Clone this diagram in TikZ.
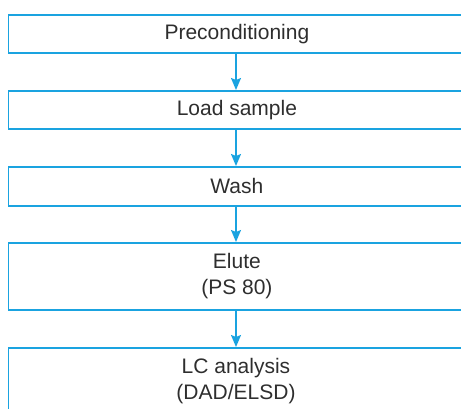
\documentclass[tikz,border=0pt]{standalone}
\usepackage{fontspec}
\setmainfont{Liberation Sans}
\usetikzlibrary{arrows.meta}
\definecolor{agblue}{HTML}{1AA3E0}
\definecolor{txtgray}{HTML}{2E2E2E}
\begin{document}
\begin{tikzpicture}[x=1pt,y=-1pt,
  stepbox/.style={draw=agblue,line width=1.8pt,minimum width=457pt,inner sep=0pt,
    text=txtgray,font=\fontsize{21}{26}\selectfont,align=center,anchor=north west},
  flow/.style={draw=agblue,line width=1.6pt,-{Stealth[length=12pt,width=10pt,inset=2pt]}}]
\useasboundingbox (0,0) rectangle (461,408);
\begin{scope}
\clip (0,0) rectangle (461,408);
\node[stepbox,minimum height=38pt] (b1) at (7.5,14) {\raisebox{-1pt}{Preconditioning}};
\node[stepbox,minimum height=38pt] (b2) at (7.5,90) {\raisebox{-1pt}{Load sample}};
\node[stepbox,minimum height=39pt] (b3) at (7.5,166) {\raisebox{-1pt}{Wash}};
\node[stepbox,minimum height=67pt] (b4) at (7.5,242) {Elute\\(PS 80)};
\node[stepbox,minimum height=80pt] (b5) at (7.5,347) {};
\node[text=txtgray,font=\fontsize{21}{26}\selectfont,align=center] (t5) at (236,381) {LC analysis\\(DAD/ELSD)};
\end{scope}
\coordinate (ax) at (236,0);
\draw[flow] (b1.south -| ax) -- (b2.north -| ax);
\draw[flow] (b2.south -| ax) -- (b3.north -| ax);
\draw[flow] (b3.south -| ax) -- (b4.north -| ax);
\draw[flow] (b4.south -| ax) -- (b5.north -| ax);
\end{tikzpicture}
\end{document}
